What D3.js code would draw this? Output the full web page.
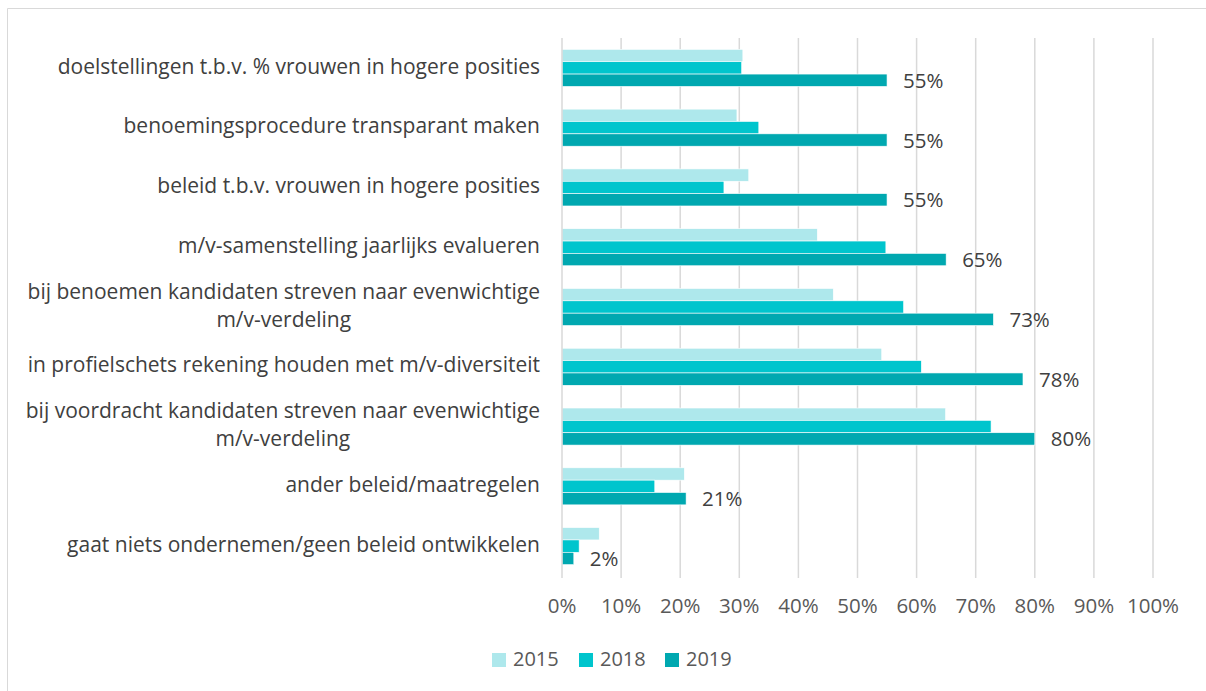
<!DOCTYPE html>
<html>
<head>
<meta charset="utf-8">
<script src="https://cdn.jsdelivr.net/npm/d3@7"></script>
<style>
  html, body { margin: 0; padding: 0; background: #fff; }
  svg { display: block; }
  text { font-family: "Open Sans", Lato, sans-serif; }
</style>
</head>
<body>
<svg id="chart" width="1206" height="691"></svg>
<script>
// Maatregelen voor m/v-diversiteit, aandeel organisaties per jaar (%)
const categories = [
  "doelstellingen t.b.v. % vrouwen in hogere posities",
  "benoemingsprocedure transparant maken",
  "beleid t.b.v. vrouwen in hogere posities",
  "m/v-samenstelling jaarlijks evalueren",
  "bij benoemen kandidaten streven naar evenwichtige\nm/v-verdeling",
  "in profielschets rekening houden met m/v-diversiteit",
  "bij voordracht kandidaten streven naar evenwichtige\nm/v-verdeling",
  "ander beleid/maatregelen",
  "gaat niets ondernemen/geen beleid ontwikkelen"
];
const years = ["2015", "2018", "2019"];
const values2015 = [30.6, 29.6, 31.6, 43.2, 45.9, 54.1, 64.9, 20.7, 6.3];
const values2018 = [30.4, 33.3, 27.4, 54.8, 57.8, 60.8, 72.6, 15.7, 2.9];
const values2019 = [55, 55, 55, 65, 73, 78, 80, 21, 2];
const xTicks = [0, 10, 20, 30, 40, 50, 60, 70, 80, 90, 100];
const colors = ["#aee8ec", "#00c5cd", "#00a8b0"];

const series = [values2015, values2018, values2019];
const svg = d3.select("#chart");

// outer frame
svg.append("path")
  .attr("d", "M7.5,691 L7.5,8.5 L1206,8.5")
  .attr("fill", "none").attr("stroke", "#d9d9d9").attr("stroke-width", 1);

const x = d3.scaleLinear().domain([0, 100]).range([562, 1153]);
const y = d3.scaleBand().domain(categories).range([38, 576]).paddingInner(0.38).paddingOuter(0.19);
const ySub = d3.scaleBand().domain(years).range([0, y.bandwidth()]);

// gridlines
svg.append("g").selectAll("line").data(xTicks.slice(1)).join("line")
  .attr("x1", d => x(d)).attr("x2", d => x(d))
  .attr("y1", 38).attr("y2", 578)
  .attr("stroke", "#d9d9d9").attr("stroke-width", 1.5);

// bars
years.forEach((yr, i) => {
  svg.append("g").selectAll("rect").data(categories).join("rect")
    .attr("x", x(0))
    .attr("y", c => y(c) + ySub(yr))
    .attr("width", (c, j) => x(series[i][j]) - x(0))
    .attr("height", ySub.bandwidth())
    .attr("fill", colors[i])
    .attr("stroke", "#ffffff").attr("stroke-width", 0.6);
});

// category axis line
svg.append("line")
  .attr("x1", x(0)).attr("x2", x(0)).attr("y1", 38).attr("y2", 578)
  .attr("stroke", "#d9d9d9").attr("stroke-width", 1.5);

// value labels for 2019
svg.append("g").selectAll("text").data(categories).join("text")
  .attr("x", (c, j) => x(values2019[j]) + 16)
  .attr("y", c => y(c) + ySub("2019") + ySub.bandwidth() / 2 + 2)
  .attr("dominant-baseline", "middle")
  .attr("font-size", 20.5).attr("fill", "#404040")
  .text((c, j) => d3.format(".0f")(values2019[j]) + "%");

// category labels (multi-line labels centred within their block, block right-aligned)
const catG = svg.append("g");
categories.forEach(c => {
  const lines = c.split("\n");
  const cy = y(c) + y.bandwidth() / 2;
  const lineH = 28;
  const t = catG.append("text").attr("font-size", 21).attr("fill", "#404040");
  lines.forEach((ln, k) => {
    t.append("tspan").text(ln)
      .attr("y", cy + (k - (lines.length - 1) / 2) * lineH)
      .attr("dominant-baseline", "middle");
  });
  const tspans = t.selectAll("tspan").nodes();
  const maxW = d3.max(tspans, n => n.getComputedTextLength());
  const right = 540;
  if (lines.length === 1) {
    t.attr("text-anchor", "end").selectAll("tspan").attr("x", right);
  } else {
    t.attr("text-anchor", "middle").selectAll("tspan").attr("x", right - maxW / 2);
  }
});

// x axis tick labels
svg.append("g").selectAll("text").data(xTicks).join("text")
  .attr("x", d => x(d)).attr("y", 608)
  .attr("text-anchor", "middle").attr("dominant-baseline", "middle")
  .attr("font-size", 20.5).attr("fill", "#595959")
  .text(d => d + "%");

// legend
const legendX = [492, 579, 665];
const lg = svg.append("g").selectAll("g").data(years).join("g")
  .attr("transform", (d, i) => `translate(${legendX[i]},653)`);
lg.append("rect").attr("width", 14).attr("height", 14).attr("fill", (d, i) => colors[i]);
lg.append("text").attr("x", 21).attr("y", 8).attr("dominant-baseline", "middle")
  .attr("font-size", 20).attr("fill", "#595959").text(d => d);
</script>
</body>
</html>
